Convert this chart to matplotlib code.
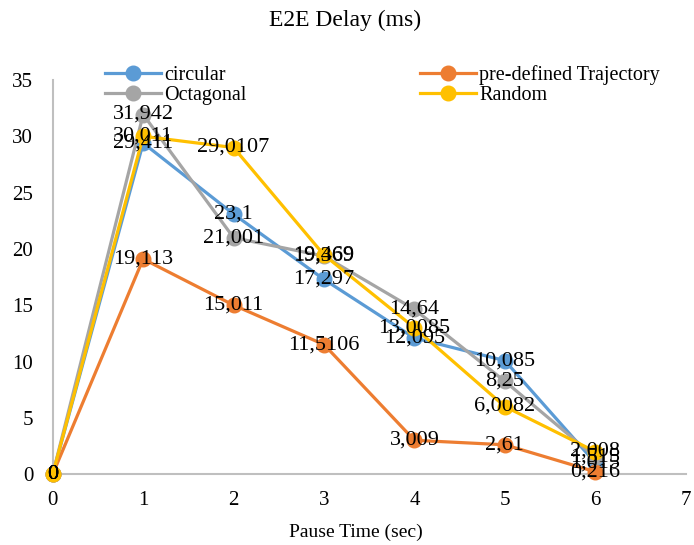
import matplotlib
matplotlib.use("Agg")
import matplotlib.pyplot as plt

plt.rcParams['font.family'] = ['Liberation Serif', 'DejaVu Serif']

pause = [0, 1, 2, 3, 4, 5, 6]
circular = [0, 29.411, 23.1, 17.297, 12.095, 10.085, 1.015]
predefined = [0, 19.113, 15.011, 11.5106, 3.009, 2.61, 0.216]
octagonal = [0, 31.942, 21.001, 19.369, 14.64, 8.25, 1.515]
random_mob = [0, 30.011, 29.0107, 19.469, 13.0085, 6.0082, 2.008]

series = [
    ("circular", circular, "#5B9BD5"),
    ("pre-defined Trajectory", predefined, "#ED7D31"),
    ("Octagonal", octagonal, "#A5A5A5"),
    ("Random", random_mob, "#FFC000"),
]


def lab(v):
    if v == 0:
        return "0"
    return str(v).replace(".", ",")


fig = plt.figure(figsize=(6.94, 5.45), dpi=100)
ax = fig.add_axes([0.076, 0.130, 0.912, 0.723])

handles = {}
for name, vals, col in series:
    h, = ax.plot(pause, vals, color=col, lw=2.3, marker="o", ms=10.5,
                 label=name, clip_on=False, zorder=3)
    handles[name] = h
    for x, y in zip(pause, vals):
        ax.text(x, y, lab(y), ha="center", va="center", fontsize=16,
                color="black", zorder=5)

ax.set_xlim(0, 7)
ax.set_ylim(0, 35)
ax.set_xticks(range(0, 8))
ax.set_yticks(range(0, 36, 5))
ax.tick_params(length=0, labelsize=15)
ax.tick_params(axis="y", pad=14)
ax.tick_params(axis="x", pad=12)
for s in ["top", "right"]:
    ax.spines[s].set_visible(False)
for s in ["left", "bottom"]:
    ax.spines[s].set_color("#BFBFBF")
    ax.spines[s].set_linewidth(1.5)

ax.set_xlabel("Pause Time (sec)", fontsize=14)
ax.xaxis.set_label_coords(0.479, -0.125)
fig.suptitle("E2E Delay (ms)", fontsize=17, x=0.497, y=0.982)

order = ["circular", "Octagonal", "pre-defined Trajectory", "Random"]
fig.legend([handles[k] for k in order], order, ncol=2, loc="upper left",
           bbox_to_anchor=(0.151, 0.881), frameon=False, fontsize=14.5,
           handlelength=2.8, handletextpad=0.15, columnspacing=8.6,
           labelspacing=0.05, borderpad=0, borderaxespad=0)

fig.savefig("out.png", dpi=100)
